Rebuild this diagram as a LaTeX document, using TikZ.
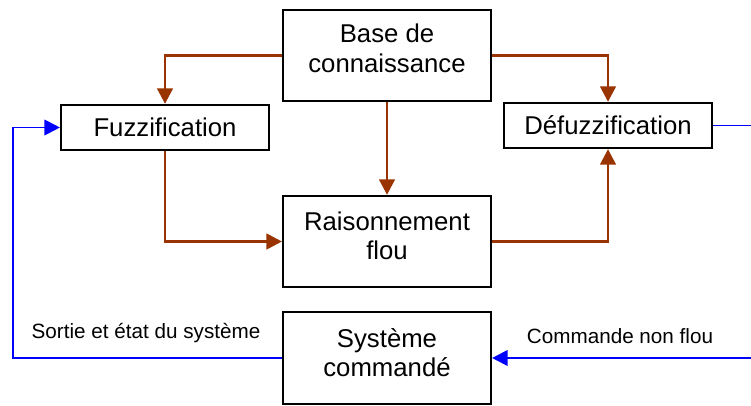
\documentclass[tikz,border=0pt]{standalone}
\usepackage{fontspec}
\setmainfont{Liberation Sans}
\usetikzlibrary{arrows.meta,positioning,calc}

\definecolor{rouille}{RGB}{153,51,0}
\definecolor{bleu}{RGB}{0,0,255}

\begin{document}
\begin{tikzpicture}[
  >=Triangle,
  bloc/.style={draw, line width=1.5pt, minimum width=5.2cm,
              minimum height=2.28cm, align=center,
              font=\fontsize{18.3}{20.6}\selectfont},
  petit/.style={bloc, minimum height=1.13cm},
  txt/.style={align=center, font=\fontsize{18.3}{20.8}\selectfont},
  arr/.style={-{Triangle[length=11pt,width=11pt]}, line width=2pt, rouille},
  barr/.style={-{Triangle[length=11pt,width=11pt]}, line width=1.4pt, bleu},
  lbl/.style={font=\fontsize{14.7}{17}\selectfont, text=black},
]
\path[use as bounding box, clip] (0,0) rectangle (18.775,10.125);

% === Blocs ===
\node[bloc] (base) at (9.675,8.7375) {};
\node[txt] (base-t) at ([yshift=0.18cm]base) {Base de\\connaissance};
\node[petit] (fuzz) at (4.125,6.9375) {Fuzzification};
\node[petit] (defuzz) at (15.2,6.9875) {Défuzzification};
\node[bloc] (rais) at (9.675,4.0875) {};
\node[txt] (rais-t) at ([yshift=0.14cm]rais) {Raisonnement\\flou};
\node[bloc] (sys) at (9.675,1.175) {};
\node[txt] (sys-t) at ([yshift=0.14cm]sys) {Système\\commandé};

% Labels
\node[lbl] (sortie) at (3.65,1.8) {Sortie et état du système};
\node[lbl] (cmd) at (15.5,1.725) {Commande non flou};

% Arrows
\draw[arr] (base.west) -| (fuzz.north);
\draw[arr] (base.east) -| (defuzz.north);
\draw[arr] (base) -- (rais);
\draw[arr] (fuzz.south) |- (rais.west);
\draw[arr] (rais.east) -| (defuzz.south);

% Boucle
\draw[barr] (defuzz.east) -- ++(1.2,0) |- (sys.east);
\draw[barr] (sys.west) -- ++(-6.725,0) |- (fuzz.west);

\end{tikzpicture}
\end{document}
